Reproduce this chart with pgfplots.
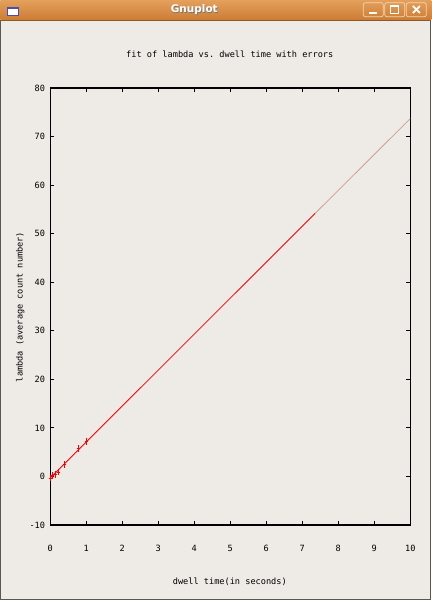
\documentclass[border=0pt]{standalone}
\usepackage{pgfplots}
\pgfplotsset{compat=1.18}
\usepackage{fontspec}
\setmainfont{DejaVu Sans}
\setmonofont{DejaVu Sans Mono}
\definecolor{winbg}{RGB}{238,235,231}
\definecolor{bartop}{RGB}{228,160,92}
\definecolor{barbot}{RGB}{204,124,52}
\definecolor{btnline}{RGB}{244,214,176}
\definecolor{fadedfit}{RGB}{205,160,140}
\definecolor{frame}{RGB}{90,86,82}

\begin{document}
\begin{tikzpicture}[x=1pt,y=1pt]
% window: background, title bar, frame
\fill[winbg] (0,0) rectangle (431,600);
\shade[top color=bartop,bottom color=barbot] (0,580) rectangle (431,600);
\draw[frame,line width=1pt] (0.5,580) -- (0.5,0.5) -- (430.5,0.5) -- (430.5,580);
\draw[barbot!70!black,line width=0.6pt] (0,580) -- (431,580);
% window icon
\fill[white] (7,585) rectangle (18,592.5);
\draw[blue!40!gray,line width=0.8pt] (7,585) rectangle (18,592.5);
\fill[blue!40!gray] (7,591) rectangle (18,592.5);
% title text
\node[text=black!55,font=\fontsize{10.5}{12}\selectfont\bfseries] at (194.6,589.4) {Gnuplot};
\node[text=white,font=\fontsize{10.5}{12}\selectfont\bfseries] at (194,590) {Gnuplot};
% buttons
\foreach \a/\b in {363/383,384.5/404.5,406/426}
  \draw[btnline,rounded corners=2pt,line width=0.7pt] (\a,583.3) rectangle (\b,597.3);
\draw[white,line width=1.6pt] (369,587) -- (377,587);
\draw[white,line width=1.2pt] (390.5,586.5) rectangle (398.5,594);
\draw[white,line width=1.8pt] (412.5,587) -- (419.5,594) (412.5,594) -- (419.5,587);

% titles and axis labels
\node[font=\ttfamily\fontsize{8.6}{10}\selectfont] at (229.5,546) {fit of lambda vs. dwell time with errors};
\node[font=\ttfamily\fontsize{8.6}{10}\selectfont] at (229.5,18) {dwell time(in seconds)};
\node[font=\ttfamily\fontsize{8.6}{10}\selectfont,rotate=90] at (20,293) {lambda (average count number)};

\begin{axis}[
    at={(50pt,75pt)},
    anchor=south west,
    scale only axis,
    width=360pt,
    height=437pt,
    xmin=0, xmax=10,
    ymin=-10, ymax=80,
    xtick={0,1,...,10},
    xticklabels={0,1,2,3,4,5,6,7,8,9,10},
    ytick={-10,0,10,20,30,40,50,60,70,80},
    yticklabels={-10,0,10,20,30,40,50,60,70,80},
    tick align=inside,
    xtick pos=both,
    ytick pos=both,
    major tick length=4pt,
    every tick/.style={black,line width=1pt},
    axis line style={black,line width=1.5pt},
    ticklabel style={font=\ttfamily\fontsize{8.6}{10}\selectfont},
    xticklabel style={anchor=center,yshift=-23pt},
    yticklabel style={anchor=east,inner sep=0pt,xshift=-5pt},
    clip=false]
% fitted line, drawn faded beyond x = 7.36 as in the screenshot
\addplot[red,line width=0.8pt] coordinates {(0,-0.3) (7.36,54.2)};
\addplot[fadedfit,line width=0.8pt] coordinates {(7.36,54.2) (10,73.7)};
% measured points with error bars
\addplot[red,only marks,mark=+,mark size=1.6pt,line width=0.6pt,
    error bars/.cd,y dir=both,y explicit,
    error bar style={red,line width=0.6pt},
    error mark options={red,mark size=1.2pt,line width=0.6pt}]
  coordinates {
    (0.01,-0.3) +- (0,0.4)
    (0.05,0.2) +- (0,0.4)
    (0.14,0.4) +- (0,0.4)
    (0.23,0.9) +- (0,0.4)
    (0.40,2.4) +- (0,0.45)
    (0.79,5.7) +- (0,0.5)
    (1.00,7.2) +- (0,0.5)
  };
\end{axis}
\end{tikzpicture}
\end{document}
